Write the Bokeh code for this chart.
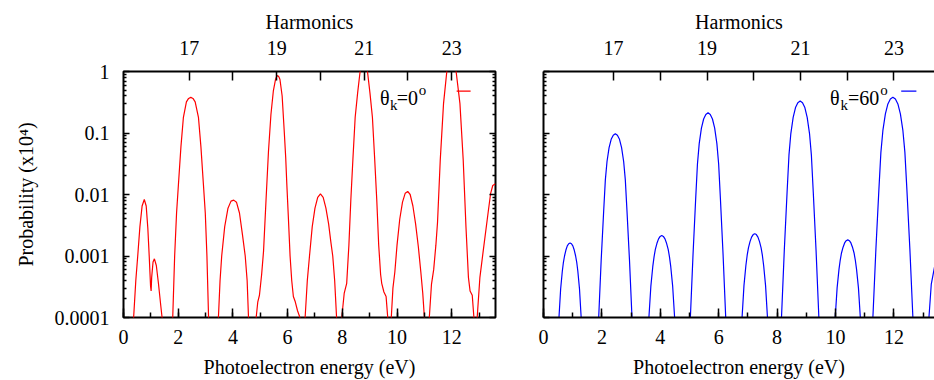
from bokeh.plotting import figure
from bokeh.models import Range1d, LinearAxis, LogAxis, FixedTicker, SingleIntervalTicker
from bokeh.layouts import row
from bokeh.embed import file_html
from bokeh.resources import INLINE
from bokeh.core.properties import value

FONT = "Liberation Serif"

# ---- data ----
energy_red = [
    0.30, 0.37, 0.45, 0.52, 0.60, 0.68, 0.76, 0.83, 0.89, 0.94, 0.99, 1.01, 1.03, 1.08, 1.13, 1.20, 1.28, 1.36, 1.41, 1.48,
    1.74, 1.80, 1.87, 1.94, 2.01, 2.10, 2.19, 2.30, 2.38, 2.46, 2.54, 2.62, 2.74, 2.83, 2.92, 2.99, 3.05, 3.11, 3.17,
    3.41, 3.47, 3.53, 3.59, 3.70, 3.82, 3.93, 4.03, 4.13, 4.24, 4.35, 4.45, 4.52, 4.57, 4.62,
    4.79, 4.85, 4.91, 4.97, 5.05, 5.12, 5.21, 5.30, 5.39, 5.48, 5.56, 5.60, 5.64, 5.68, 5.72, 5.80, 5.88, 5.93, 5.97,
    6.03, 6.09, 6.15, 6.21, 6.28, 6.36, 6.45, 6.50,
    6.58, 6.64, 6.72, 6.80, 6.90, 7.00, 7.10, 7.20, 7.30, 7.40, 7.50, 7.58, 7.65, 7.72, 7.79, 7.84,
    7.92, 7.98, 8.07, 8.16, 8.24, 8.31, 8.39, 8.47, 8.56, 8.65, 8.72, 8.785, 8.85, 8.92, 9.01, 9.10, 9.18, 9.26, 9.33,
    9.40, 9.44, 9.52, 9.60, 9.66, 9.70,
    9.73, 9.79, 9.85, 9.92, 10.00, 10.10, 10.20, 10.30, 10.39, 10.48, 10.58, 10.68, 10.78, 10.87, 10.94, 11.00, 11.05,
    11.13, 11.18, 11.26, 11.34, 11.42, 11.48, 11.58, 11.70, 11.82, 11.92, 12.00, 12.08, 12.16, 12.30, 12.42, 12.52,
    12.61, 12.67, 12.75, 12.81, 12.86, 12.88, 12.93, 13.03, 13.15, 13.34, 13.42, 13.50, 13.60,
]
prob_red = [
    1e-5, 1e-4, 4e-4, 1e-3, 3e-3, 6.5e-3, 8.3e-3, 6.5e-3, 2.8e-3, 1e-3, 3.2e-4, 2.7e-4, 4.5e-4, 8e-4, 9e-4, 7e-4, 3.5e-4, 1.6e-4, 1e-4, 1e-5,
    1e-5, 1e-4, 1e-3, 5e-3, 0.015, 0.06, 0.18, 0.32, 0.365, 0.38, 0.365, 0.32, 0.18, 0.06, 0.015, 5e-3, 1e-3, 1e-4, 1e-5,
    1e-5, 1e-4, 4e-4, 1e-3, 3e-3, 6e-3, 7.8e-3, 8.1e-3, 7.5e-3, 5e-3, 2.2e-3, 1e-3, 4e-4, 1e-4, 1e-5,
    1e-5, 1e-4, 1.8e-4, 2.3e-4, 5e-4, 1.2e-3, 8e-3, 0.05, 0.2, 0.49, 0.75, 0.83, 0.86, 0.82, 0.74, 0.4, 0.1, 0.04, 0.015,
    4e-3, 1e-3, 4e-4, 2.2e-4, 1.8e-4, 1.3e-4, 1e-4, 1e-5,
    1e-5, 1e-4, 4e-4, 1e-3, 3e-3, 6e-3, 9e-3, 1.02e-2, 9e-3, 6e-3, 3.3e-3, 1.7e-3, 1e-3, 4e-4, 1e-4, 1e-5,
    1e-5, 1e-4, 2.5e-4, 3.6e-4, 1.5e-3, 8e-3, 0.04, 0.18, 0.45, 1.0, 1.6, 1.9, 1.6, 1.0, 0.45, 0.18, 0.04, 8e-3, 1.5e-3,
    5e-4, 3.6e-4, 2.6e-4, 2.2e-4, 1e-4, 1e-5,
    1e-5, 1e-4, 3e-4, 5.5e-4, 1.5e-3, 4e-3, 7.5e-3, 1.05e-2, 1.12e-2, 1.0e-2, 6.5e-3, 3.3e-3, 1.4e-3, 5.5e-4, 2.5e-4, 1e-4, 1e-5,
    1e-5, 1e-4, 3.5e-4, 6e-4, 1.5e-3, 3.5e-3, 0.036, 0.3, 1.0, 1.7, 1.95, 1.7, 1.0, 0.3, 0.036, 3e-3,
    4.5e-4, 2.7e-4, 2.3e-4, 1e-4, 1e-5, 1e-5, 1e-4, 4.5e-4, 1.2e-3, 5.5e-3, 0.0103, 0.014, 0.015,
]

energy_blue = [
    0.48, 0.53, 0.587, 0.644, 0.682, 0.72, 0.7675, 0.815, 0.8625, 0.91, 0.9575, 1.005, 1.0525, 1.10, 1.138, 1.176, 1.233, 1.29, 1.34,
    1.84, 1.89, 1.975, 2.06, 2.118, 2.175, 2.246, 2.3175, 2.389, 2.46, 2.531, 2.6025, 2.674, 2.745, 2.802, 2.86, 2.945, 3.03, 3.08,
    3.56, 3.61, 3.676, 3.742, 3.786, 3.83, 3.885, 3.94, 3.995, 4.05, 4.105, 4.16, 4.215, 4.27, 4.314, 4.358, 4.424, 4.49, 4.54,
    4.98, 5.03, 5.121, 5.2115, 5.272, 5.3325, 5.408, 5.484, 5.559, 5.635, 5.711, 5.786, 5.862, 5.9375, 5.998, 6.0585, 6.149, 6.24, 6.29,
    6.75, 6.80, 6.865, 6.93, 6.974, 7.018, 7.072, 7.126, 7.181, 7.235, 7.289, 7.344, 7.398, 7.452, 7.496, 7.54, 7.605, 7.67, 7.72,
    8.10, 8.15, 8.246, 8.342, 8.406, 8.47, 8.55, 8.63, 8.71, 8.79, 8.87, 8.95, 9.03, 9.11, 9.174, 9.238, 9.334, 9.43, 9.48,
    9.94, 9.99, 10.055, 10.119, 10.162, 10.205, 10.259, 10.3125, 10.366, 10.42, 10.474, 10.5275, 10.581, 10.635, 10.678, 10.721,
    10.7855, 10.85, 10.90,
    11.23, 11.28, 11.383, 11.4855, 11.554, 11.6225, 11.708, 11.794, 11.879, 11.965, 12.051, 12.136, 12.222, 12.3075, 12.376,
    12.4445, 12.547, 12.65, 12.70,
    13.15, 13.20, 13.28, 13.39, 13.50,
]
prob_blue = [
    1e-5, 1e-4, 2.9e-4, 5.65e-4, 7.9e-4, 1.0e-3, 1.25e-3, 1.46e-3, 1.585e-3, 1.63e-3, 1.585e-3, 1.46e-3, 1.25e-3, 1.0e-3, 7.9e-4, 5.65e-4, 2.9e-4, 1e-4, 1e-5,
    1e-5, 1e-4, 8.5e-4, 5.3e-3, 0.0173, 0.0344, 0.0579, 0.0789, 0.0918, 0.097, 0.0918, 0.0789, 0.0579, 0.0344, 0.0173, 5.3e-3, 8.5e-4, 1e-4, 1e-5,
    1e-5, 1e-4, 3.2e-4, 6.7e-4, 9.7e-4, 1.28e-3, 1.61e-3, 1.9e-3, 2.08e-3, 2.15e-3, 2.08e-3, 1.9e-3, 1.61e-3, 1.28e-3, 9.7e-4, 6.7e-4, 3.2e-4, 1e-4, 1e-5,
    1e-5, 1e-4, 1.07e-3, 8.5e-3, 0.0313, 0.0673, 0.1197, 0.169, 0.200, 0.213, 0.200, 0.169, 0.1197, 0.0673, 0.0313, 8.5e-3, 1.07e-3, 1e-4, 1e-5,
    1e-5, 1e-4, 3.3e-4, 6.95e-4, 1.02e-3, 1.36e-3, 1.71e-3, 2.03e-3, 2.23e-3, 2.3e-3, 2.23e-3, 2.03e-3, 1.71e-3, 1.36e-3, 1.02e-3, 6.95e-4, 3.3e-4, 1e-4, 1e-5,
    1e-5, 1e-4, 1.23e-3, 0.011, 0.0436, 0.098, 0.180, 0.259, 0.310, 0.33, 0.310, 0.259, 0.180, 0.098, 0.0436, 0.011, 1.23e-3, 1e-4, 1e-5,
    1e-5, 1e-4, 3.03e-4, 6.07e-4, 8.6e-4, 1.12e-3, 1.39e-3, 1.63e-3, 1.775e-3, 1.83e-3, 1.775e-3, 1.63e-3, 1.39e-3, 1.12e-3, 8.6e-4, 6.07e-4,
    3.03e-4, 1e-4, 1e-5,
    1e-5, 1e-4, 1.29e-3, 0.012, 0.0484, 0.110, 0.205, 0.297, 0.356, 0.38, 0.356, 0.297, 0.205, 0.110, 0.0484,
    0.012, 1.29e-3, 1e-4, 1e-5,
    1e-5, 1e-4, 3.5e-4, 6.6e-4, 1.1e-3,
]

harmonic_energy = [2.4, 4.0, 5.6, 7.2, 8.8, 10.4, 12.0]
harmonic_labels = ["17", "", "19", "", "21", "", "23"]
ytick_values = [1e-4, 1e-3, 1e-2, 1e-1, 1.0]
ytick_labels = ["0.0001", "0.001", "0.01", "0.1", "1"]
yminor_values = [m * d for d in ytick_values[:-1] for m in range(2, 10)]


def style_axis(ax, tick_in, minor_in):
    ax.major_tick_in = tick_in
    ax.major_tick_out = 0
    ax.minor_tick_in = minor_in
    ax.minor_tick_out = 0
    ax.major_tick_line_width = 1.5
    ax.minor_tick_line_width = 1.5
    ax.major_tick_line_color = "black"
    ax.minor_tick_line_color = "black" if minor_in > 0 else None
    ax.major_label_text_font = FONT
    ax.major_label_text_font_size = "20px"
    ax.major_label_text_color = "black"
    ax.axis_label_text_font = FONT
    ax.axis_label_text_font_size = "20px"
    ax.axis_label_text_font_style = "normal"
    ax.axis_label_text_color = "black"


def make_panel(energy, prob, color, x_end, frame_w, b_left, b_right, framed, show_ylabels, legend):
    p = figure(frame_width=frame_w, frame_height=246,
               min_border_left=b_left, min_border_right=b_right,
               min_border_top=71, min_border_bottom=63,
               x_range=Range1d(0, x_end), y_range=Range1d(1e-4, 1.0),
               y_axis_type="log", output_backend="svg", toolbar_location=None,
               background_fill_color="white", border_fill_color="white")
    p.xgrid.visible = False
    p.ygrid.visible = False
    if framed:
        p.outline_line_color = "black"
        p.outline_line_width = 2
    else:
        p.outline_line_color = None

    # bottom axis
    xb = p.xaxis[0]
    xb.ticker = SingleIntervalTicker(interval=2, num_minor_ticks=2)
    style_axis(xb, 9, 5)
    xb.axis_label = "Photoelectron energy (eV)"
    xb.major_label_standoff = 12
    xb.axis_label_standoff = 9

    # top axis (harmonics)
    xt = LinearAxis(ticker=FixedTicker(ticks=harmonic_energy),
                    major_label_overrides={e: l for e, l in zip(harmonic_energy, harmonic_labels)})
    style_axis(xt, 9, 0)
    xt.axis_label = "Harmonics"
    xt.major_label_standoff = 17
    xt.axis_label_standoff = 5
    p.add_layout(xt, "above")

    # left axis
    yl = p.yaxis[0]
    yl.ticker = FixedTicker(ticks=ytick_values, minor_ticks=yminor_values)
    style_axis(yl, 6, 3)
    if show_ylabels:
        yl.major_label_overrides = {v: l for v, l in zip(ytick_values, ytick_labels)}
        yl.major_label_standoff = 14
        yl.axis_label = "Probability (x10\u2074)"
        yl.axis_label_standoff = 15
    else:
        yl.major_label_overrides = {v: "" for v in ytick_values}
        yl.major_label_standoff = 0

    axes = [xb, xt, yl]
    if framed:
        yr = LogAxis(ticker=FixedTicker(ticks=ytick_values, minor_ticks=yminor_values),
                     major_label_overrides={v: "" for v in ytick_values})
        style_axis(yr, 6, 3)
        yr.major_label_standoff = 0
        p.add_layout(yr, "right")
        axes.append(yr)
    for ax in axes:
        if framed:
            ax.axis_line_color = None
        else:
            ax.axis_line_color = "black"
            ax.axis_line_width = 2

    p.line(energy, prob, line_color=color, line_width=1.2)

    # legend (gnuplot style: text then sample line)
    (tx, kx, ex, ox, eq_text, lx0, lx1) = legend
    p.text(x=[tx], y=[0.371], text=["\u03b8"], text_font=value(FONT), text_font_size="20px",
           text_baseline="alphabetic", text_align="left", text_color="black")
    p.text(x=[kx], y=[0.290], text=["k"], text_font=value(FONT), text_font_size="15px",
           text_baseline="alphabetic", text_align="left", text_color="black")
    p.text(x=[ex], y=[0.371], text=[eq_text], text_font=value(FONT), text_font_size="20px",
           text_baseline="alphabetic", text_align="left", text_color="black")
    p.text(x=[ox], y=[0.50], text=["o"], text_font=value(FONT), text_font_size="15px",
           text_baseline="alphabetic", text_align="left", text_color="black")
    p.segment(x0=[lx0], y0=[0.479], x1=[lx1], y1=[0.479], line_color=color, line_width=1.2)
    return p


left = make_panel(energy_red, prob_red, "#ff0000", 13.6, 372, 123, 20, True, True,
                  (9.379, 9.744, 9.989, 10.79, "=0", 12.18, 12.69))
right = make_panel(energy_blue, prob_blue, "#0000ff", 13.39, 391, 28, 0, False, False,
                   (9.808, 10.175, 10.424, 11.53, "=60", 12.25, 12.77))

layout = row(left, right)
open("out.html", "w").write(file_html(layout, INLINE))
